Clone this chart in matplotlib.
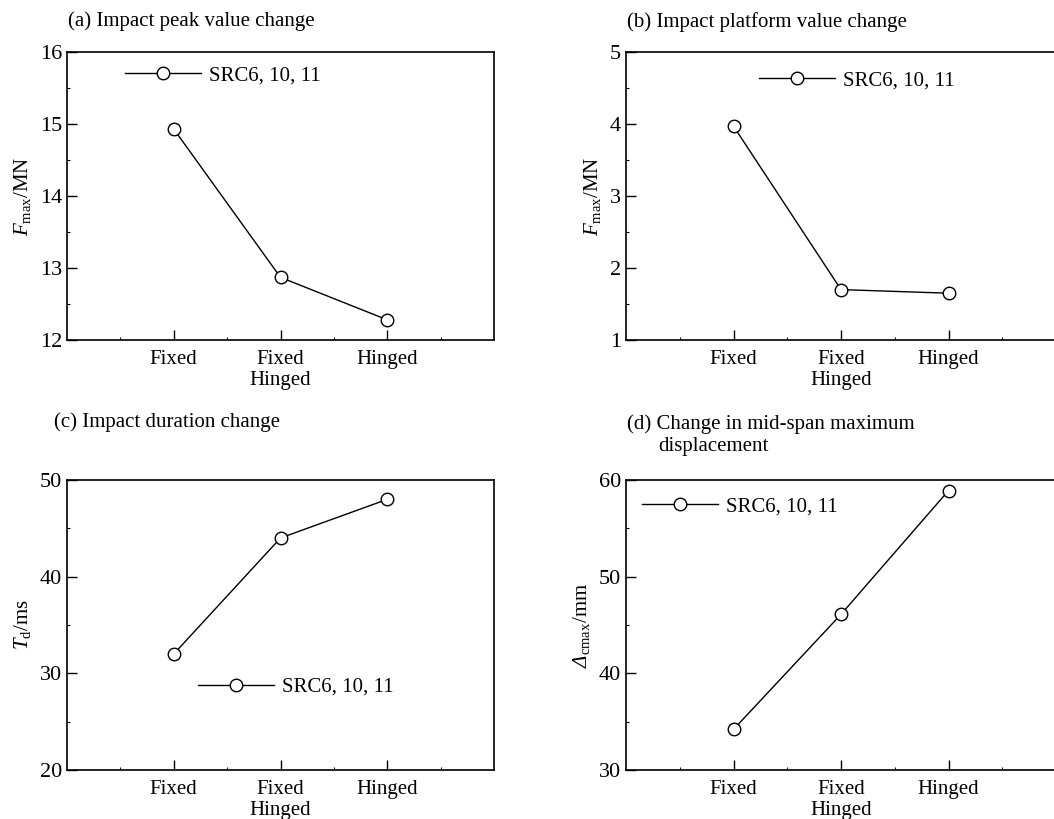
import matplotlib
matplotlib.use("Agg")
import matplotlib.pyplot as plt
from matplotlib.ticker import MultipleLocator, FixedLocator

plt.rcParams["font.family"] = "Liberation Serif"
plt.rcParams["mathtext.fontset"] = "custom"
plt.rcParams["mathtext.rm"] = "Liberation Serif"
plt.rcParams["mathtext.it"] = "Liberation Serif:italic"
plt.rcParams["mathtext.sf"] = "Liberation Serif:italic"
plt.rcParams["font.size"] = 15

conditions = ["Fixed", "Fixed\nHinged", "Hinged"]
x_pos = [1, 2, 3]
series_label = "SRC6, 10, 11"

peak_force = [14.93, 12.87, 12.28]     # (a) MN
platform_force = [3.97, 1.70, 1.65]    # (b) MN
duration = [32, 44, 48]                # (c) ms
mid_disp = [34.2, 46.1, 58.9]          # (d) mm

W, H = 1054, 819
fig = plt.figure(figsize=(W / 100, H / 100), dpi=100)


def px_axes(left, top, right, bottom):
    return fig.add_axes([left / W, 1 - bottom / H, (right - left) / W, (bottom - top) / H])


panels = [
    # axes box (px), values, ylim, major, minor, ylabel, legend anchor
    ((67, 52, 494, 340), peak_force, (12, 16), 1, 0.5,
     r"$F_{\mathrm{max}}$/MN", (0.136, 0.917)),
    ((626, 52, 1056, 340), platform_force, (1, 5), 1, 0.5,
     r"$F_{\mathrm{max}}$/MN", (0.309, 0.90)),
    ((67, 480, 494, 770), duration, (20, 50), 10, 5,
     r"$T_{\mathrm{d}}$/ms", (0.307, 0.286)),
    ((626, 480, 1056, 770), mid_disp, (30, 60), 10, 5,
     r"$\mathsf{\Delta}_{\mathrm{cmax}}$/mm", (0.037, 0.908)),
]

for box, vals, ylim, major, minor, ylabel, anchor in panels:
    ax = px_axes(*box)
    ax.plot(x_pos, vals, color="k", lw=1.0, marker="o", ms=9,
            mfc="white", mec="k", mew=1.0, label=series_label)
    ax.set_xlim(0, 4)
    ax.set_ylim(*ylim)
    ax.set_xticks(x_pos)
    ax.set_xticklabels(conditions, linespacing=1.15)
    ax.xaxis.set_minor_locator(FixedLocator([0.5, 1.5, 2.5, 3.5]))
    ax.yaxis.set_major_locator(MultipleLocator(major))
    ax.yaxis.set_minor_locator(MultipleLocator(minor))
    ax.tick_params(which="both", direction="in", top=False, right=False)
    ax.tick_params(which="major", length=7, width=1.0)
    ax.tick_params(which="minor", length=2.5, width=0.8)
    ax.tick_params(axis="x", which="major", pad=7)
    ax.tick_params(axis="y", labelsize=16)
    for s in ax.spines.values():
        s.set_linewidth(1.2)
    ax.set_ylabel(ylabel, labelpad=5)
    ax.legend(loc="center left", bbox_to_anchor=anchor, frameon=False,
              handlelength=3.65, handletextpad=0.4, borderpad=0,
              borderaxespad=0)

fig.text(68 / W, 1 - 21 / H, "(a) Impact peak value change", va="center", ha="left")
fig.text(627 / W, 1 - 22 / H, "(b) Impact platform value change", va="center", ha="left")
fig.text(54 / W, 1 - 422 / H, "(c) Impact duration change", va="center", ha="left")
fig.text(627 / W, 1 - 424 / H, "(d) Change in mid-span maximum", va="center", ha="left")
fig.text(658 / W, 1 - 447 / H, "displacement", va="center", ha="left")

fig.savefig("out.png", dpi=100)
